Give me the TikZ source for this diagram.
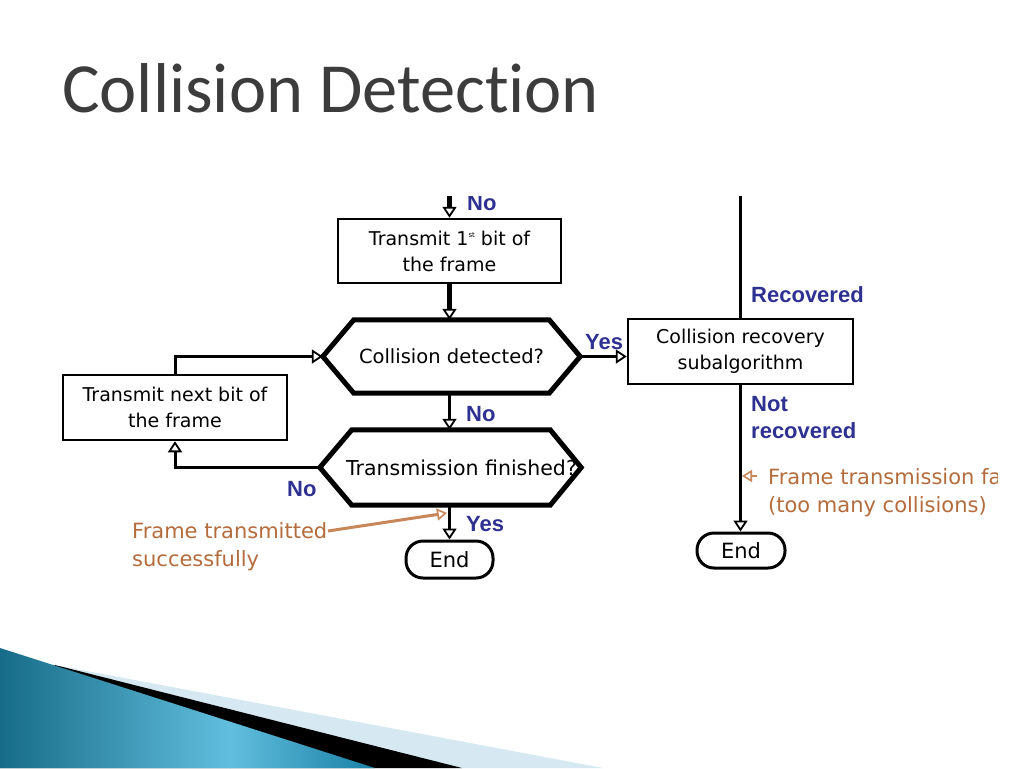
\documentclass[tikz,border=0pt]{standalone}
\usepackage{fontspec}
\setmainfont{DejaVu Sans}
\newfontfamily\titlefont{Carlito}[Ligatures={NoCommon}]
\newfontfamily\lblfont{Liberation Sans}
\usetikzlibrary{arrows.meta}
\definecolor{lblblue}{RGB}{46,49,146}
\definecolor{annotcol}{RGB}{180,108,60}
\definecolor{annotline}{RGB}{200,135,90}
\definecolor{titlegray}{RGB}{60,60,60}
\definecolor{swdark}{RGB}{22,108,136}
\definecolor{swmid}{RGB}{98,190,222}
\definecolor{swright}{RGB}{22,126,163}
\definecolor{swlight}{RGB}{214,232,241}
\tikzset{
  box/.style={draw, rectangle, line width=2.5pt, inner sep=0pt, align=center,
    font=\fontsize{19}{26}\selectfont},
  hexa/.style={rectangle, inner sep=0pt, font=\fontsize{19.5}{24}\selectfont},
  hexline/.style={draw, line width=5pt, line join=miter},
  endnode/.style={draw, rectangle, rounded corners=17pt, line width=3pt, inner sep=0pt,
    font=\fontsize{21}{24}\selectfont},
  tipw/.style={-{Triangle[length=11pt,width=14pt,fill=white,line width=1.8pt]}},
  conn/.style={draw, line width=3pt, tipw},
  thickconn/.style={draw, line width=5pt, tipw},
  plainline/.style={draw, line width=3pt},
  lbl/.style={text=lblblue, inner sep=0pt, font=\lblfont\bfseries\fontsize{22}{27}\selectfont, align=left},
  annot/.style={text=annotcol, inner sep=0pt, align=left, font=\fontsize{21}{28}\selectfont},
  annotarrow/.style={draw=annotline, -{Triangle[length=10pt,width=12pt,fill=white,line width=1.6pt]}},
}
\begin{document}
\begin{tikzpicture}[x=1pt,y=-1pt]
\fill[white] (0,0) rectangle (1024,768);
\useasboundingbox (0,0) rectangle (1024,768);
% title
\node[anchor=base west, inner sep=0pt, text=titlegray, font=\titlefont\fontsize{70.5}{80}\selectfont] (title) at (62,112) {Collision Detection};
% bottom swoosh
\fill[swlight] (60,666) -- (603,768) -- (0,768) -- cycle;
\fill[black] (55,665) -- (462,768) -- (0,768) -- cycle;
\begin{scope}
\clip (0,648) -- (375,768) -- (0,768) -- cycle;
\shade[left color=swdark, right color=swmid] (-1,640) rectangle (231,770);
\shade[left color=swmid, right color=swright] (230,640) rectangle (380,770);
\end{scope}
\begin{scope}
\clip (55,196) rectangle (997,600);
% nodes
\node[box, minimum width=223pt, minimum height=64pt] (b1) at (449.5,251) {Transmit 1\raisebox{8pt}{\fontsize{7}{7}\selectfont st} bit of\\the frame};
\node[box, minimum width=225pt, minimum height=65pt] (b2) at (740.5,351.5) {Collision recovery\\subalgorithm};
\node[box, minimum width=224pt, minimum height=65pt] (b3) at (175,407.5) {Transmit next bit of\\the frame};
\node[hexa, minimum width=257pt, minimum height=73pt] (h1) at (451.5,356.5) {Collision detected?};
\node[hexa, minimum width=261pt, minimum height=75pt, font=\fontsize{20.5}{24}\selectfont] (h2) at (450.5,467.5) {\hspace*{22pt}Transmission finished?};
\draw[hexline] (h1.west) -- ([xshift=31pt]h1.north west) -- ([xshift=-31pt]h1.north east) -- (h1.east) -- ([xshift=-31pt]h1.south east) -- ([xshift=31pt]h1.south west) -- cycle;
\draw[hexline] (h2.west) -- ([xshift=32pt]h2.north west) -- ([xshift=-31pt]h2.north east) -- (h2.east) -- ([xshift=-31pt]h2.south east) -- ([xshift=32pt]h2.south west) -- cycle;
\node[endnode, minimum width=87pt, minimum height=37pt] (e1) at (449.5,559.5) {End};
\node[endnode, minimum width=88pt, minimum height=35pt] (e2) at (741,550.5) {End};
\coordinate (t1) at (449.5,185);
\coordinate (t2) at (740.5,185);
% connectors
\draw[thickconn] (t1) -- (b1.north);
\draw[thickconn] (b1.south) -- (b1.south |- h1.north);
\draw[conn] (h1.east) -- (h1.east -| b2.west);
\draw[conn] (b3.north) |- (h1.west);
\draw[conn] (b1.south |- h1.south) -- (b1.south |- h2.north);
\draw[conn] (h2.west) -| (b3.south);
\draw[conn] (b1.south |- h2.south) -- (b1.south |- e1.north);
\draw[plainline] (t2) -- (b2.north);
\draw[conn] (b2.south) -- (b2.south |- e2.north);
% labels
\node[lbl, anchor=base west] (l1) at (467,210) {No};
\node[lbl, anchor=base west] (l2) at (585,349) {Yes};
\node[lbl, anchor=base west] (l3) at (466,421) {No};
\node[lbl, anchor=base west] (l4) at (287,496) {No};
\node[lbl, anchor=base west] (l5) at (466,531) {Yes};
\node[lbl, anchor=base west] (l6) at (751,302) {Recovered};
\node[lbl, anchor=west] (l7) at (751,418) {Not\\recovered};
% annotations
\node[annot, anchor=west] (ft) at (132,547) {Frame transmitted\\successfully};
\coordinate (fts) at (328,531);
\coordinate (ftt) at (447,513);
\draw[annotarrow, line width=3pt] (fts) -- (ftt);
\node[annot, anchor=west] (ff) at (768,493) {Frame transmission failed\\(too many collisions)};
\coordinate (fa1) at (757,476);
\coordinate (fa2) at (742,476);
\draw[annotarrow, line width=2pt] (fa1) -- (fa2);
\end{scope}
\end{tikzpicture}
\end{document}
